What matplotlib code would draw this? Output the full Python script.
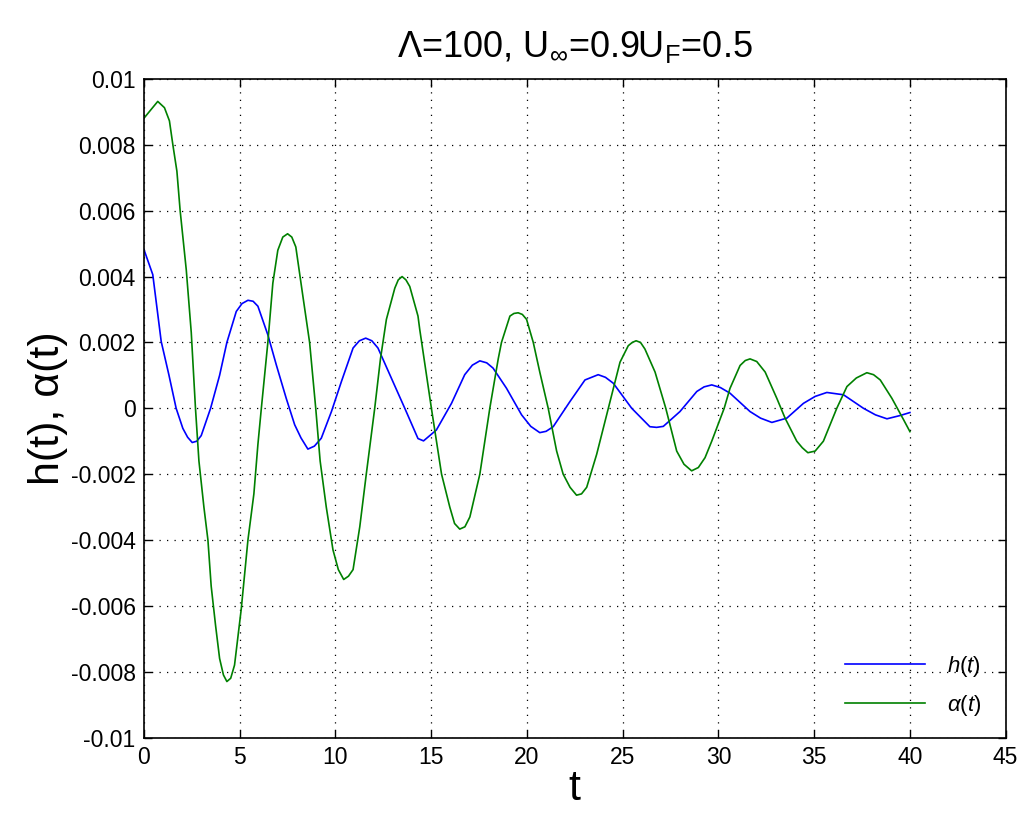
import matplotlib
matplotlib.use('Agg')
import matplotlib.pyplot as plt

plt.rcParams['font.family'] = ['Liberation Sans', 'DejaVu Sans']
plt.rcParams['mathtext.fontset'] = 'custom'
plt.rcParams['mathtext.rm'] = 'Liberation Sans'
plt.rcParams['mathtext.it'] = 'Liberation Sans:italic'

# h(t)
t_h = [0, 0.46, 0.9, 1.3, 1.68, 2.03, 2.28, 2.52, 2.76, 2.99, 3.48, 3.95, 4.33,
       4.82, 5.12, 5.43, 5.7, 5.95, 6.47, 6.91, 7.43, 7.87, 8.2, 8.56, 8.9,
       9.26, 9.79, 10.31, 10.92, 11.25, 11.58, 11.9, 12.22, 13.0, 13.62,
       14.31, 14.6, 15.27, 16.06, 16.75, 17.15, 17.54, 17.9, 18.23, 18.93,
       19.72, 20.2, 20.67, 21.0, 21.37, 22.24, 23.03, 23.72, 24.1, 24.51,
       25.47, 26.42, 26.77, 27.12, 27.99, 28.87, 29.25, 29.65, 30.1, 30.6,
       31.65, 32.2, 32.79, 33.57, 34.44, 35.05, 35.66, 36.53, 37.57, 38.2,
       38.8, 39.49, 40.0]
h = [0.00482, 0.00406, 0.00203, 0.00102, 0.0, -0.00061, -0.00088, -0.00104,
     -0.001, -0.00083, 0.0, 0.001, 0.002, 0.00294, 0.00318, 0.00328, 0.00325,
     0.0031, 0.00223, 0.00132, 0.0003, -0.0005, -0.0009, -0.00124, -0.00115,
     -0.00091, -0.0001, 0.00081, 0.00183, 0.00205, 0.00213, 0.00205, 0.00183,
     0.00081, 0.0, -0.00092, -0.00099, -0.00066, 0.00015, 0.00102, 0.00131,
     0.00144, 0.00138, 0.00122, 0.00061, -0.0002, -0.00055, -0.00074, -0.0007,
     -0.00056, 0.0002, 0.00086, 0.00102, 0.00094, 0.00076, 0.0, -0.00056,
     -0.00058, -0.00055, -0.0001, 0.00051, 0.00065, 0.00071, 0.00063, 0.00046,
     -0.0001, -0.0003, -0.00043, -0.0003, 0.00015, 0.00036, 0.00048, 0.00041,
     0.0, -0.0002, -0.00032, -0.00022, -0.00013]

# alpha(t)
t_a = [0, 0.38, 0.72, 1.07, 1.33, 1.51, 1.72, 1.89, 2.21, 2.47, 2.69, 2.87,
       3.13, 3.34, 3.51, 3.74, 3.95, 4.15, 4.33, 4.53, 4.73, 5.08, 5.43, 5.74,
       5.95, 6.13, 6.47, 6.73, 6.99, 7.25, 7.5, 7.72, 7.93, 8.3, 8.65, 8.97,
       9.2, 9.52, 9.87, 10.15, 10.43, 10.68, 10.92, 11.27, 11.61, 12.05,
       12.35, 12.66, 13.1, 13.28, 13.48, 13.68, 13.88, 14.31, 14.4, 15.01,
       15.54, 15.97, 16.22, 16.49, 16.76, 17.02, 17.54, 18.06, 18.5, 18.67,
       19.11, 19.32, 19.54, 19.76, 19.98, 20.33, 20.67, 21.11, 21.55, 21.89,
       22.25, 22.59, 22.85, 23.12, 23.64, 24.25, 24.86, 25.29, 25.5, 25.7,
       25.93, 26.16, 26.69, 27.25, 27.82, 28.2, 28.6, 28.95, 29.3, 29.65,
       29.91, 30.3, 30.6, 31.13, 31.4, 31.65, 32.0, 32.44, 33.05, 33.48,
       34.09, 34.38, 34.67, 35.05, 35.48, 36.18, 36.71, 37.2, 37.75, 38.1,
       38.45, 39.06, 39.67, 40.0]
alpha = [0.00881, 0.00908, 0.00932, 0.00913, 0.00873, 0.008, 0.0072, 0.006,
         0.0042, 0.0023, 0.0, -0.0016, -0.003, -0.004, -0.0054, -0.0066,
         -0.0076, -0.0081, -0.0083, -0.0082, -0.0078, -0.0061, -0.004, -0.0026,
         -0.0011, 0.0, 0.002, 0.0038, 0.0048, 0.0052, 0.0053, 0.0052, 0.0049,
         0.0034, 0.002, 0.0, -0.0016, -0.003, -0.0043, -0.0049, -0.0052,
         -0.0051, -0.0049, -0.0036, -0.002, 0.0, 0.0015, 0.0027, 0.00365,
         0.0039, 0.004, 0.0039, 0.0037, 0.0028, 0.0024, 0.0, -0.002, -0.003,
         -0.0035, -0.00367, -0.0036, -0.0033, -0.002, 0.0, 0.0015, 0.002,
         0.0028, 0.00288, 0.0029, 0.00285, 0.0027, 0.002, 0.0011, 0.0, -0.0013,
         -0.002, -0.0024, -0.00264, -0.0026, -0.0024, -0.0014, 0.0, 0.0014,
         0.0019, 0.002, 0.00205, 0.002, 0.0018, 0.0011, 0.0, -0.0013, -0.0017,
         -0.0019, -0.0018, -0.0015, -0.001, -0.0006, 0.0, 0.0006, 0.0013,
         0.00145, 0.0015, 0.00142, 0.0011, 0.0003, -0.0003, -0.001, -0.0012,
         -0.00135, -0.0013, -0.001, 0.0, 0.00066, 0.00092, 0.00108, 0.00102,
         0.00086, 0.0003, -0.00035, -0.00071]

xticks = [0, 5, 10, 15, 20, 25, 30, 35, 40, 45]
yticks = [-0.01, -0.008, -0.006, -0.004, -0.002, 0, 0.002, 0.004, 0.006, 0.008, 0.01]
ylabels = ['-0.01', '-0.008', '-0.006', '-0.004', '-0.002', '0',
           '0.002', '0.004', '0.006', '0.008', '0.01']

fig = plt.figure(figsize=(10.21, 8.19), dpi=100)
ax = fig.add_axes([0.141, 0.0995, 0.844, 0.804])

ax.plot(t_h, h, color=(0, 0, 1), lw=1.2, label='$h(t)$')
ax.plot(t_a, alpha, color=(0, 0.5, 0), lw=1.2, label=r'$\alpha(t)$')

ax.set_xlim(0, 45)
ax.set_ylim(-0.01, 0.01)
ax.set_xticks(xticks)
ax.set_yticks(yticks)
ax.set_yticklabels(ylabels)
ax.tick_params(direction='in', top=True, right=True, length=6, width=1,
               labelsize=16.5, pad=6)
ax.grid(True, color='black', linestyle=(0, (1, 5)), linewidth=0.9)
for s in ax.spines.values():
    s.set_linewidth(1.2)

ax.set_title(r'Λ=100, U$_{\infty}$=0.9U$_\mathrm{F}$=0.5', fontsize=26, pad=16)
ax.set_xlabel('t', fontsize=31, labelpad=0)
ax.set_ylabel('h(t), α(t)', fontsize=31, labelpad=2)

leg = ax.legend(loc='lower right', frameon=False, fontsize=16,
                bbox_to_anchor=(0.995, 0.0), handlelength=3.6, labelspacing=0.6,
                handletextpad=1.0)

fig.savefig('out.png', dpi=100)
